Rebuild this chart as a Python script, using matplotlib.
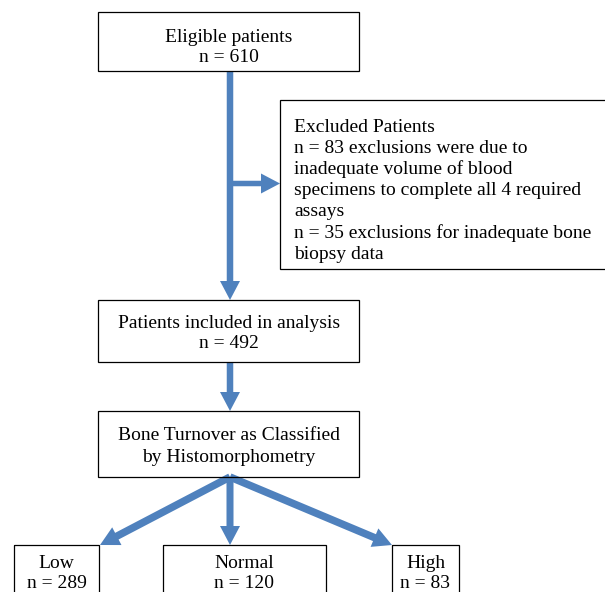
import matplotlib
matplotlib.use("Agg")
import matplotlib.pyplot as plt
from matplotlib.patches import Rectangle

plt.rcParams['font.family'] = ['Liberation Serif', 'DejaVu Serif']

# flowchart content
eligible_n = 610
included_n = 492
excluded_lines = ["Excluded Patients",
                  "n = 83 exclusions were due to",
                  "inadequate volume of blood",
                  "specimens to complete all 4 required",
                  "assays",
                  "n = 35 exclusions for inadequate bone",
                  "biopsy data"]
groups = ["Low", "Normal", "High"]
group_n = [289, 120, 83]

blue = "#4F81BD"
fs = 14
dy = 2  # small nudge so the text sits like the original

fig = plt.figure(figsize=(6.05, 5.92), dpi=100)
ax = fig.add_axes([0, 0, 1, 1])
ax.set_xlim(0, 605)
ax.set_ylim(592, 0)
ax.axis('off')


def box(x0, y0, x1, y1):
    ax.add_patch(Rectangle((x0, y0), x1 - x0, y1 - y0, fill=False,
                           edgecolor='black', lw=0.9, zorder=3))


def arrow(x0, y0, x1, y1, w=6.5):
    ax.arrow(x0, y0, x1 - x0, y1 - y0, width=w, head_width=20,
             head_length=19, length_includes_head=True, color=blue,
             lw=0, zorder=2)


# boxes
box(98, 12, 359, 71)
ax.text(229, 35 + dy, "Eligible patients", ha='center', va='center', fontsize=fs)
ax.text(229, 56 + dy, "n = %d" % eligible_n, ha='center', va='center', fontsize=fs)

box(280, 100, 606, 269)
for i, line in enumerate(excluded_lines):
    ax.text(294, 125 + dy + i * 21.2, line, ha='left', va='center', fontsize=fs)

box(98, 300, 359, 362)
ax.text(229, 321 + dy, "Patients included in analysis", ha='center', va='center', fontsize=fs)
ax.text(229, 342 + dy, "n = %d" % included_n, ha='center', va='center', fontsize=fs)

box(98, 411, 359, 477)
ax.text(229, 433 + dy, "Bone Turnover as Classified", ha='center', va='center', fontsize=fs)
ax.text(229, 455 + dy, "by Histomorphometry", ha='center', va='center', fontsize=fs)

bottom_boxes = [(14, 99), (163, 326), (392, 459)]
for (x0, x1), name, n in zip(bottom_boxes, groups, group_n):
    box(x0, 545, x1, 600)
    cx = (x0 + x1) / 2
    ax.text(cx, 561 + dy, name, ha='center', va='center', fontsize=fs)
    ax.text(cx, 582 + dy, "n = %d" % n, ha='center', va='center', fontsize=fs)

# arrows
arrow(230, 71, 230, 300)
arrow(230, 183.5, 280, 183.5, w=5.5)
arrow(230, 362, 230, 411)
arrow(230, 477, 100, 545, w=7.5)
arrow(230, 477, 230, 545, w=7)
arrow(230, 477, 392, 545, w=7.5)

fig.savefig("out.png", dpi=100)
